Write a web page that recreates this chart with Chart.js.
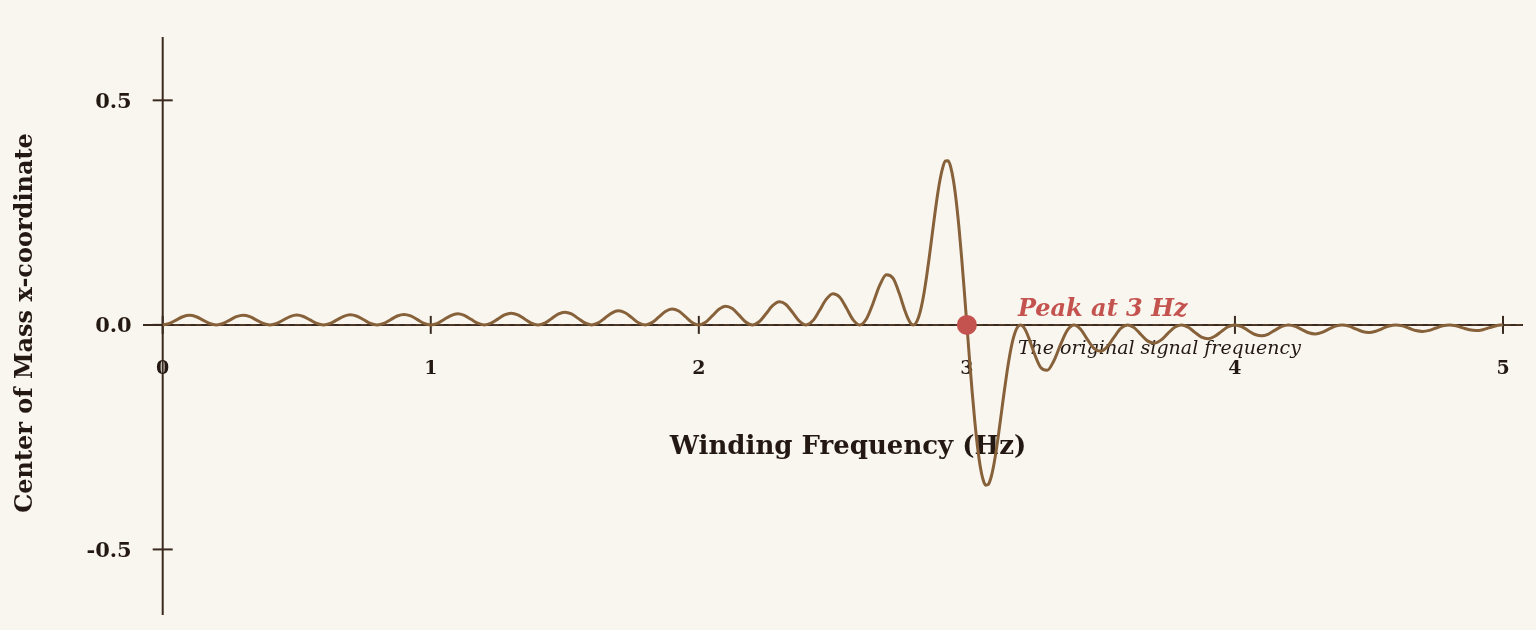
<!DOCTYPE html>
<html>
<head>
<meta charset="utf-8">
<script src="https://cdn.jsdelivr.net/npm/chart.js@4.4.1/dist/chart.umd.min.js"></script>
<style>
  html, body { margin: 0; padding: 0; background: #f9f6ef; }
  #wrap { width: 1536px; height: 630px; position: relative; }
</style>
</head>
<body>
<div id="wrap"><canvas id="c"></canvas></div>
<script>
// ---- Data ----
const freqHz = [
  0.000,0.025,0.050,0.075,0.100,0.125,0.150,0.175,0.200,0.225,0.250,0.275,0.300,0.325,0.350,0.375,
  0.400,0.425,0.450,0.475,0.500,0.525,0.550,0.575,0.600,0.625,0.650,0.675,0.700,0.725,0.750,0.775,
  0.800,0.825,0.850,0.875,0.900,0.925,0.950,0.975,1.000,1.025,1.050,1.075,1.100,1.125,1.150,1.175,
  1.200,1.225,1.250,1.275,1.300,1.325,1.350,1.375,1.400,1.425,1.450,1.475,1.500,1.525,1.550,1.575,
  1.600,1.625,1.650,1.675,1.700,1.725,1.750,1.775,1.800,1.825,1.850,1.875,1.900,1.925,1.950,1.975,
  2.000,2.025,2.050,2.075,2.100,2.125,2.150,2.175,2.200,2.225,2.250,2.275,2.300,2.325,2.350,2.375,
  2.400,2.425,2.450,2.475,2.500,2.525,2.550,2.575,2.600,2.625,2.650,2.675,2.700,2.725,2.750,
  2.76,2.77,2.78,2.79,2.80,2.81,2.82,2.83,2.84,2.85,2.86,2.87,2.88,2.89,2.90,2.91,2.92,2.93,2.94,2.95,
  2.96,2.97,2.98,2.99,3.00,3.01,3.02,3.03,3.04,3.05,3.06,3.07,3.08,3.09,3.10,3.11,3.12,3.13,3.14,3.15,
  3.16,3.17,3.18,3.19,3.20,3.21,3.22,3.23,3.24,3.25,
  3.275,3.300,3.325,3.350,3.375,3.400,3.425,3.450,3.475,3.500,3.525,3.550,3.575,3.600,3.625,3.650,
  3.675,3.700,3.725,3.750,3.775,3.800,3.825,3.850,3.875,3.900,3.925,3.950,3.975,4.000,4.025,4.050,
  4.075,4.100,4.125,4.150,4.175,4.200,4.225,4.250,4.275,4.300,4.325,4.350,4.375,4.400,4.425,4.450,
  4.475,4.500,4.525,4.550,4.575,4.600,4.625,4.650,4.675,4.700,4.725,4.750,4.775,4.800,4.825,4.850,
  4.875,4.900,4.925,4.950,4.975,5.000
];
const comX = [
  0,0.00311,0.01061,0.01812,0.02124,0.01814,0.01064,0.00312,0,0.00313,0.01068,0.01827,0.02143,0.01833,0.01076,0.00316,
  0,0.00317,0.01085,0.01858,0.02183,0.01869,0.01098,0.00323,0,0.00325,0.01113,0.01908,0.02244,0.01924,0.01132,0.00333,
  0,0.00336,0.01154,0.01980,0.02332,0.02002,0.01179,0.00347,0,0.00352,0.01209,0.02078,0.02452,0.02108,0.01244,0.00367,
  0,0.00373,0.01284,0.02211,0.02613,0.02250,0.01330,0.00393,0,0.00401,0.01384,0.02389,0.02829,0.02442,0.01447,0.00429,
  0,0.00440,0.01521,0.02632,0.03126,0.02706,0.01608,0.00478,0,0.00493,0.01712,0.02972,0.03543,0.03079,0.01837,0.00549,
  0,0.00571,0.01990,0.03473,0.04161,0.03635,0.02181,0.00655,0,0.00691,0.02425,0.04263,0.05148,0.04535,0.02746,0.00833,
  0,0.00897,0.03186,0.05671,0.06945,0.06212,0.03824,0.01180,0,0.01326,0.04829,0.08839,0.11169,0.10354,0.06643,
  0.0477,0.0296,0.0143,0.0038,0,0.0042,0.0174,0.0397,0.0706,0.1088,0.1524,0.1987,0.2448,0.2876,0.3237,0.3503,0.3648,0.3653,0.3507,0.3210,
  0.2768,0.2197,0.1525,0.0780,0,-0.0778,-0.1515,-0.2175,-0.2731,-0.3157,-0.3438,-0.3569,-0.3552,-0.3399,-0.3131,-0.2772,-0.2352,-0.1903,-0.1454,-0.1035,
  -0.0670,-0.0375,-0.0164,-0.0040,0,-0.0036,-0.0133,-0.0275,-0.0441,-0.0611,
  -0.09447,-0.10105,-0.07930,-0.04297,-0.01170,0,-0.01024,-0.03290,-0.05300,-0.05876,-0.04759,-0.02651,-0.00740,0,-0.00676,-0.02209,
  -0.03618,-0.04072,-0.03344,-0.01886,-0.00533,0,-0.00497,-0.01640,-0.02710,-0.03075,-0.02545,-0.01446,-0.00411,0,-0.00388,-0.01290,
  -0.02143,-0.02445,-0.02034,-0.01161,-0.00332,0,-0.00316,-0.01054,-0.01757,-0.02012,-0.01680,-0.00962,-0.00276,0,-0.00264,-0.00884,
  -0.01479,-0.01698,-0.01421,-0.00816,-0.00234,0,-0.00226,-0.00757,-0.01268,-0.01459,-0.01223,-0.00704,-0.00203,0,-0.00196,-0.00658,
  -0.01104,-0.01272,-0.01069,-0.00616,-0.00178,0
];
const peakPoint = [{ x: 3, y: 0 }];
const xTickValues = [0, 1, 2, 3, 4, 5];
const xTickLabels = ['0', '1', '2', '3', '4', '5'];
const yTickValues = [0.5, 0, -0.5];
const yTickLabels = ['0.5', '0.0', '-0.5'];
const xTitle = 'Winding Frequency (Hz)';
const yTitle = 'Center of Mass x-coordinate';
const peakTitle = 'Peak at 3 Hz';
const peakSub = 'The original signal frequency';

// ---- Styles ----
const BG = '#f9f6ef';
const AXIS = '#3a2a20';
const CURVE = '#87613a';
const RED = '#c4534f';
const TEXT = '#241912';
const SERIF = '"DejaVu Serif", "Liberation Serif", serif';

const bgPlugin = {
  id: 'bg',
  beforeDraw(chart) {
    const ctx = chart.ctx;
    ctx.save();
    ctx.fillStyle = BG;
    ctx.fillRect(0, 0, chart.width, chart.height);
    ctx.restore();
  }
};

const axesPlugin = {
  id: 'customAxes',
  beforeDatasetsDraw(chart) {
    const ctx = chart.ctx;
    const xs = chart.scales.x, ys = chart.scales.y;
    const area = chart.chartArea;
    const x0 = xs.getPixelForValue(0);
    const y0 = ys.getPixelForValue(0);
    ctx.save();
    // axis lines
    ctx.strokeStyle = AXIS;
    ctx.lineWidth = 2;
    ctx.beginPath();
    ctx.moveTo(area.left, y0); ctx.lineTo(area.right, y0);
    ctx.moveTo(x0, area.top); ctx.lineTo(x0, area.bottom);
    ctx.stroke();
    // dashed zero reference
    ctx.save();
    ctx.setLineDash([6, 5]);
    ctx.strokeStyle = 'rgba(135,97,58,0.55)';
    ctx.lineWidth = 1;
    ctx.beginPath();
    ctx.moveTo(x0, y0); ctx.lineTo(area.right, y0);
    ctx.stroke();
    ctx.restore();
    // x ticks
    ctx.strokeStyle = AXIS;
    ctx.lineWidth = 2;
    ctx.fillStyle = TEXT;
    ctx.font = 'bold 19px ' + SERIF;
    ctx.textAlign = 'center';
    ctx.textBaseline = 'middle';
    xTickValues.forEach((v, i) => {
      const px = xs.getPixelForValue(v);
      ctx.beginPath();
      ctx.moveTo(px, y0 - 9); ctx.lineTo(px, y0 + 9);
      ctx.stroke();
      ctx.fillText(xTickLabels[i], px, y0 + 44);
    });
    // y ticks
    ctx.font = 'bold 21px ' + SERIF;
    ctx.textAlign = 'right';
    yTickValues.forEach((v, i) => {
      const py = ys.getPixelForValue(v);
      ctx.beginPath();
      ctx.moveTo(x0 - 10, py); ctx.lineTo(x0 + 10, py);
      ctx.stroke();
      ctx.fillText(yTickLabels[i], x0 - 31, py + 2);
    });
    // axis titles
    ctx.font = 'bold 26px ' + SERIF;
    ctx.textAlign = 'center';
    ctx.textBaseline = 'middle';
    ctx.fillText(xTitle, 848, y0 + 122);
    ctx.font = 'bold 24px ' + SERIF;
    ctx.save();
    ctx.translate(26, 323);
    ctx.rotate(-Math.PI / 2);
    ctx.fillText(yTitle, 0, 0);
    ctx.restore();
    // annotation
    const px3 = xs.getPixelForValue(peakPoint[0].x);
    ctx.textAlign = 'left';
    ctx.textBaseline = 'alphabetic';
    ctx.fillStyle = RED;
    ctx.font = 'italic bold 24px ' + SERIF;
    ctx.fillText(peakTitle, px3 + 51, y0 - 9);
    ctx.fillStyle = TEXT;
    ctx.font = 'italic 19px ' + SERIF;
    ctx.textBaseline = 'middle';
    ctx.fillText(peakSub, px3 + 51, y0 + 24);
    ctx.restore();
  }
};

const chart = new Chart(document.getElementById('c'), {
  type: 'line',
  data: {
    datasets: [
      {
        label: 'Center of mass',
        data: freqHz.map((f, i) => ({ x: f, y: comX[i] })),
        borderColor: CURVE,
        borderWidth: 3,
        pointRadius: 0,
        fill: false,
        cubicInterpolationMode: 'monotone',
        order: 2
      },
      {
        label: 'Peak',
        type: 'scatter',
        data: peakPoint,
        pointRadius: 10,
        pointBackgroundColor: RED,
        pointBorderWidth: 0,
        borderColor: RED,
        order: 1
      }
    ]
  },
  options: {
    responsive: true,
    maintainAspectRatio: false,
    animation: false,
    layout: { padding: { left: 143, right: 13, top: 37, bottom: 15 } },
    plugins: { legend: { display: false }, tooltip: { enabled: false } },
    scales: {
      x: { type: 'linear', min: -0.0735, max: 5.0746, display: false },
      y: { type: 'linear', min: -0.646, max: 0.641, display: false }
    }
  },
  plugins: [bgPlugin, axesPlugin]
});
</script>
</body>
</html>
